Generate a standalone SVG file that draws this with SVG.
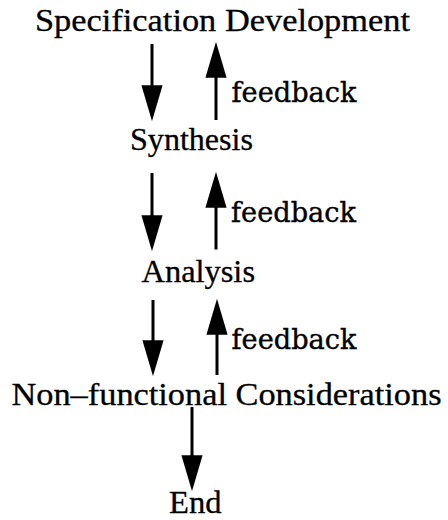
<svg xmlns="http://www.w3.org/2000/svg" width="448" height="520" viewBox="0 0 448 520">
  <defs>
    <style>
      .stage { font-family: "Liberation Serif", "Times New Roman", serif; font-size: 31px; fill: #000; stroke: #000; stroke-width: 0.3; }
      .fb { font-family: "DejaVu Serif", "Liberation Serif", serif; font-size: 27px; fill: #000; stroke: #000; stroke-width: 0.4; }
      .conn { stroke: #000; stroke-width: 3; fill: none; marker-end: url(#head); }
    </style>
    <marker id="head" markerUnits="userSpaceOnUse" orient="auto" markerWidth="36" markerHeight="22" refX="14" refY="10" viewBox="0 0 34 20">
      <path d="M0,0 L34,10 L0,20 Z" fill="#000"/>
    </marker>
  </defs>
  <rect width="448" height="520" fill="#fff"/>

  <g id="spec">
    <text class="stage" x="35" y="31" textLength="375" lengthAdjust="spacingAndGlyphs">Specification Development</text>
  </g>
  <g id="synthesis">
    <text class="stage" x="130" y="150" textLength="123" lengthAdjust="spacingAndGlyphs">Synthesis</text>
  </g>
  <g id="analysis">
    <text class="stage" x="141.5" y="282" textLength="113.5" lengthAdjust="spacingAndGlyphs">Analysis</text>
  </g>
  <g id="nonfunctional">
    <text class="stage" x="11.5" y="405" textLength="430" lengthAdjust="spacingAndGlyphs">Non–functional Considerations</text>
  </g>
  <g id="end">
    <text class="stage" x="169" y="513" textLength="52.5" lengthAdjust="spacingAndGlyphs">End</text>
  </g>

  <g id="labels">
    <text class="fb" x="231.5" y="101.5" textLength="125" lengthAdjust="spacingAndGlyphs">feedback</text>
    <text class="fb" x="231" y="221.5" textLength="125" lengthAdjust="spacingAndGlyphs">feedback</text>
    <text class="fb" x="231.5" y="349" textLength="125" lengthAdjust="spacingAndGlyphs">feedback</text>
  </g>

  <g id="connectors">
    <!-- forward flow (down) -->
    <line class="conn" x1="152" y1="44" x2="152" y2="100"/>
    <line class="conn" x1="152" y1="173" x2="152" y2="230"/>
    <line class="conn" x1="153" y1="300" x2="153" y2="355"/>
    <line class="conn" x1="192" y1="407" x2="192" y2="470"/>
    <!-- feedback (up) -->
    <line class="conn" x1="216" y1="120" x2="216" y2="63"/>
    <line class="conn" x1="216" y1="249.5" x2="216" y2="193"/>
    <line class="conn" x1="217" y1="375" x2="217" y2="320"/>
  </g>
</svg>
